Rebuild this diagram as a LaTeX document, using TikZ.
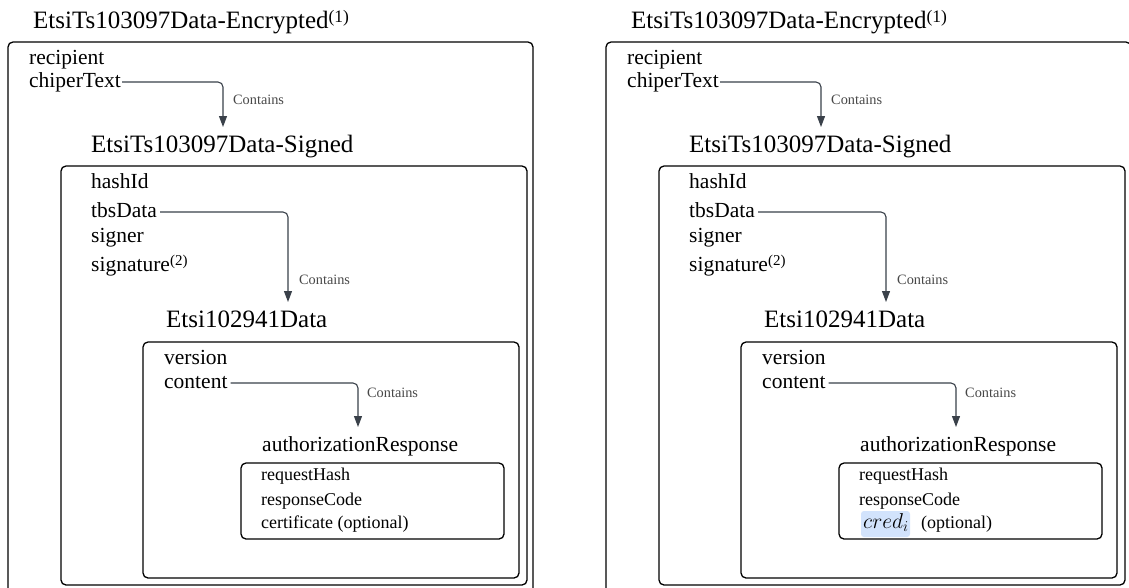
\documentclass[tikz,border=0pt]{standalone}
\usepackage{fix-cm}
\usepackage{fontspec}
\setmainfont{Liberation Serif}
\usetikzlibrary{arrows.meta}

\definecolor{connclr}{HTML}{3A414A}
\definecolor{lblclr}{HTML}{484848}
\definecolor{credbg}{HTML}{D2E3FC}

% raised footnote-style marker: size, raise, number
\newcommand\supmark[3]{\raisebox{#2}{\fontsize{#1}{#1}\selectfont(#3)}}

\tikzset{
  title/.style={anchor=base west, inner sep=0pt, font=\fontsize{25}{30}\selectfont},
  field/.style={anchor=base west, inner sep=0pt, font=\fontsize{21.5}{26}\selectfont},
  subfield/.style={anchor=base west, inner sep=0pt, font=\fontsize{18}{22}\selectfont},
  lbl/.style={anchor=base west, inner sep=0pt, text=lblclr, font=\fontsize{14.3}{17}\selectfont},
  box/.style={draw=black, line width=1.3pt, rounded corners=5pt},
  conn/.style={draw=connclr, line width=1.1pt, rounded corners=5pt,
    -{Triangle[length=11pt,width=8pt]}},
}

% one nested structure; #1 name prefix, #2 horizontal offset, #3 last field of the innermost box
\newcommand\nestedpanel[3]{%
\begin{scope}[xshift=#2]
  % nested containers
  \draw[box] (8,42) rectangle (533,600);
  \draw[box] (61,166) rectangle (527,585);
  \draw[box] (143,342) rectangle (519,578);
  \draw[box] (241,463) rectangle (504,539);
  % outer level
  \node[title] (#1enc) at (33,28) {EtsiTs103097Data-Encrypted\supmark{17.5}{6pt}{1}};
  \node[field] (#1recip) at (29,64) {recipient};
  \node[field] (#1chiper) at (29,87) {chiperText};
  \node[title] (#1signed) at (91,152) {EtsiTs103097Data-Signed};
  % signed level
  \node[field] (#1hash) at (91,188) {hashId};
  \node[field] (#1tbs) at (91,217) {tbsData};
  \node[field] (#1signer) at (91,242) {signer};
  \node[field] (#1sig) at (91,271) {signature\supmark{15}{6pt}{2}};
  \node[title] (#1etsi) at (166,327) {Etsi102941Data};
  % data level
  \node[field] (#1version) at (164,364) {version};
  \node[field] (#1content) at (164,388) {content};
  \node[field] (#1authz) at (262,451) {authorizationResponse};
  % response level
  \node[subfield] (#1req) at (261,480) {requestHash};
  \node[subfield] (#1resp) at (261,505) {responseCode};
  #3
  % arrow targets
  \coordinate (#1tipA) at (223,127);
  \coordinate (#1tipB) at (288,302);
  \coordinate (#1tipC) at (358,427);
  % containment connectors
  \draw[conn] ([xshift=1pt,yshift=5pt]#1chiper.base east) -| (#1tipA);
  \draw[conn] ([xshift=3pt,yshift=5pt]#1tbs.base east) -| (#1tipB);
  \draw[conn] ([xshift=3pt,yshift=5pt]#1content.base east) -| (#1tipC);
  \node[lbl] (#1lblA) at (233,104) {Contains};
  \node[lbl] (#1lblB) at (299,284) {Contains};
  \node[lbl] (#1lblC) at (367,397) {Contains};
\end{scope}}

\begin{document}
\begin{tikzpicture}[x=1pt, y=-1pt]
  \useasboundingbox (0,0) rectangle (1129,587);
  \fill[white] (0,0) rectangle (1129,587);
  \clip (0,0) rectangle (1129,587);

  \nestedpanel{L}{0pt}{%
    \node[subfield] (Lcert) at (261,528) {certificate (optional)};}

  \nestedpanel{R}{598pt}{%
    \fill[credbg, rounded corners=3pt] (263,511) rectangle (312,537);
    \node[anchor=base west, inner sep=0pt, font=\fontsize{21.5}{26}\selectfont] (Rcred) at (265,528) {$cred_i$};
    \node[subfield] (Ropt) at (323,528) {(optional)};}
\end{tikzpicture}
\end{document}
